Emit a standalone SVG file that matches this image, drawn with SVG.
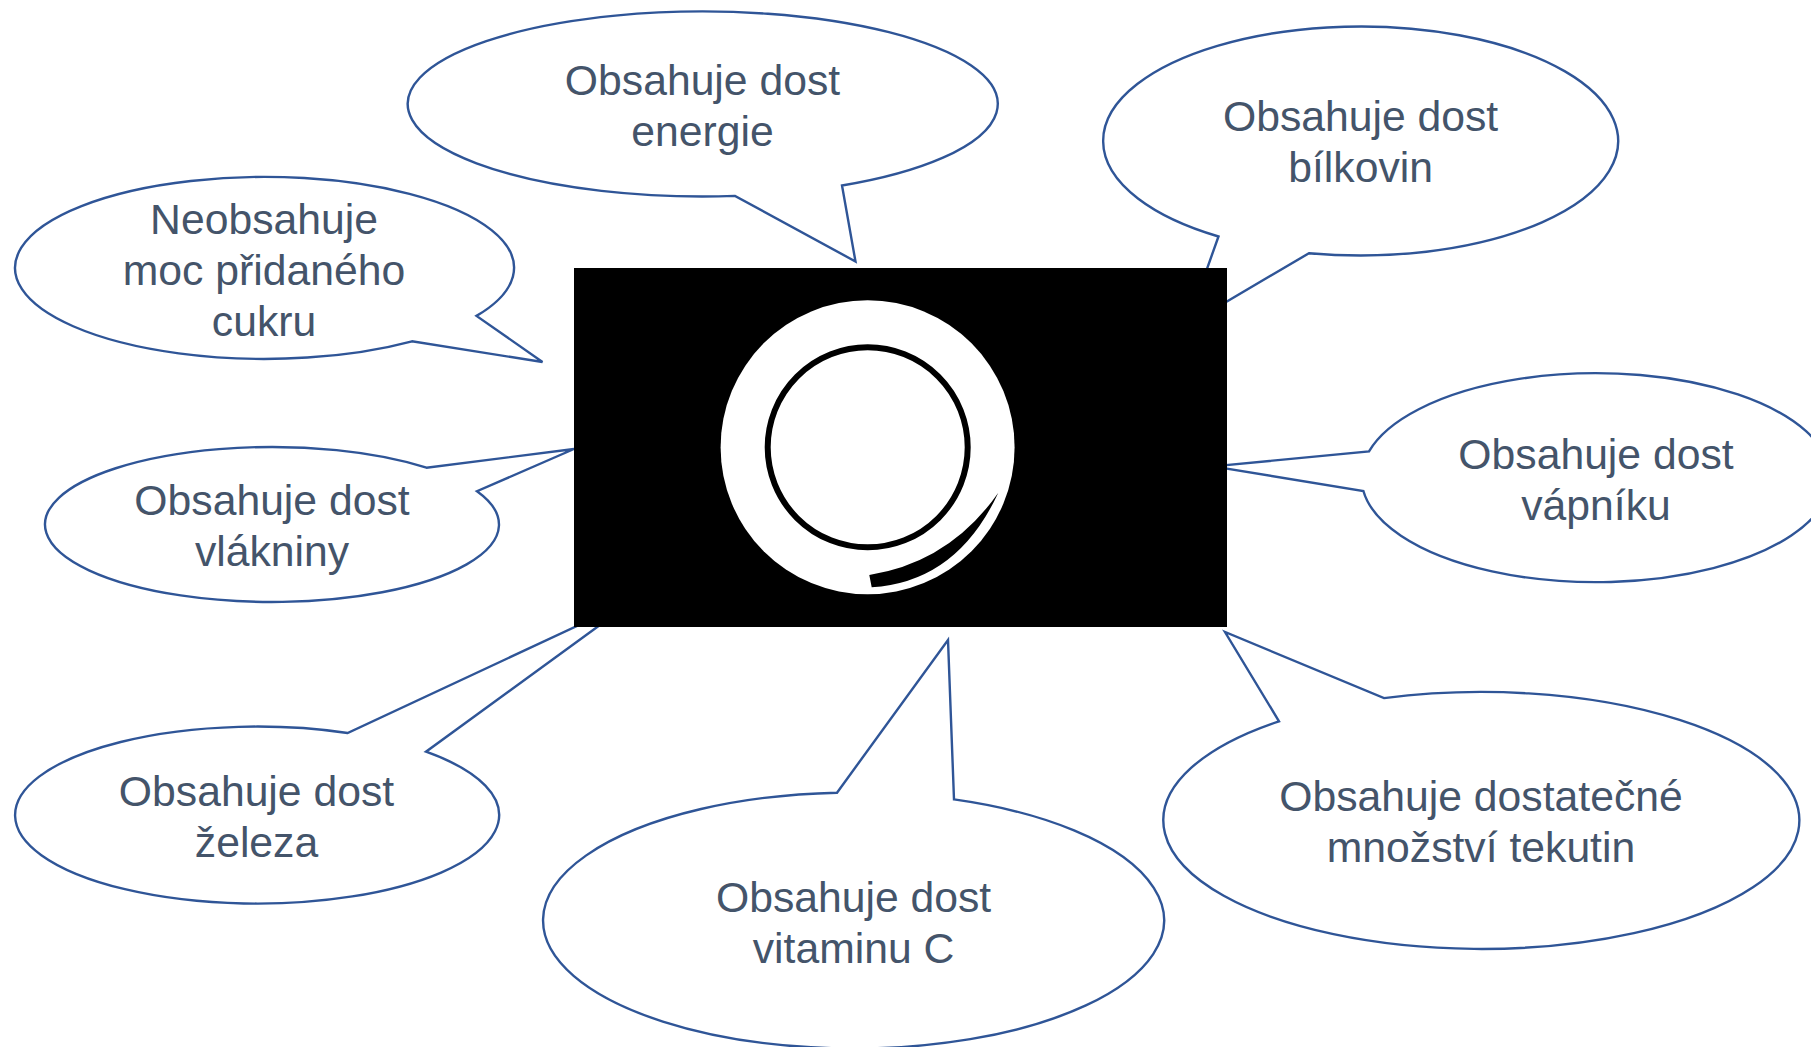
<svg xmlns="http://www.w3.org/2000/svg" width="1811" height="1047" viewBox="0 0 1811 1047">
<style>
.b{fill:#fff;stroke:#2F5597;stroke-width:2.4;stroke-linejoin:miter}
text{font-family:"Liberation Sans",Arial,sans-serif;font-size:42.7px;fill:#44546A;text-anchor:middle}
</style>
<rect width="1811" height="1047" fill="#fff"/>
<g id="connectors"></g>
<g id="n-energie"><path class="b" d="M735 195.900A295 92.500 0 1 1 842 185.500L855.500 261.500Z"/><text><tspan x="702.500" y="94.500">Obsahuje dost</tspan><tspan x="702.500" y="145.500">energie</tspan></text></g>
<g id="n-cukr"><path class="b" d="M412 341.300A249.500 91 0 1 1 476.500 315.900L542.500 362Z"/><text><tspan x="264" y="234">Neobsahuje</tspan><tspan x="264" y="285">moc přidaného</tspan><tspan x="264" y="336">cukru</tspan></text></g>
<g id="n-vlaknina"><path class="b" d="M426.500 467.700A227 77.500 0 1 0 477 491.200L574 449Z"/><text><tspan x="272" y="515">Obsahuje dost</tspan><tspan x="272" y="566">vlákniny</tspan></text></g>
<g id="n-zelezo"><path class="b" d="M347.600 733A242 88.500 0 1 0 426 751.700L637 598Z"/><text><tspan x="256.500" y="806">Obsahuje dost</tspan><tspan x="256.500" y="857">železa</tspan></text></g>
<g id="n-vitamin"><path class="b" d="M837 792.700A310.500 128 0 1 0 954 799.400L948 640Z"/><text><tspan x="853.600" y="912">Obsahuje dost</tspan><tspan x="853.600" y="963">vitaminu C</tspan></text></g>
<g id="n-tekutiny"><path class="b" d="M1384 698.100A318 128.500 0 1 1 1279 721.300L1225 632Z"/><text><tspan x="1481" y="811">Obsahuje dostatečné</tspan><tspan x="1481" y="862">množství tekutin</tspan></text></g>
<g id="n-vapnik"><path class="b" d="M1369 451.400A234.500 104.500 0 1 1 1363.400 491L1213 466.400Z"/><text><tspan x="1596" y="469">Obsahuje dost</tspan><tspan x="1596" y="520">vápníku</tspan></text></g>
<g id="n-bilkoviny"><path class="b" d="M1309 253.200A257.500 114.500 0 1 0 1218.500 236.500L1187 325Z"/><text><tspan x="1360.600" y="130.500">Obsahuje dost</tspan><tspan x="1360.600" y="181.500">bílkovin</tspan></text></g>
<g id="n-talir">
<rect x="574" y="268" width="653" height="359" fill="#000"/>
<circle cx="867.600" cy="447.300" r="147" fill="#fff"/>
<circle cx="867.700" cy="447.300" r="100" fill="#fff" stroke="#000" stroke-width="6"/>
<path d="M869.300 575Q950 562 998.300 492.700Q957 582 871.700 587.300Z" fill="#000"/>
</g>
</svg>
